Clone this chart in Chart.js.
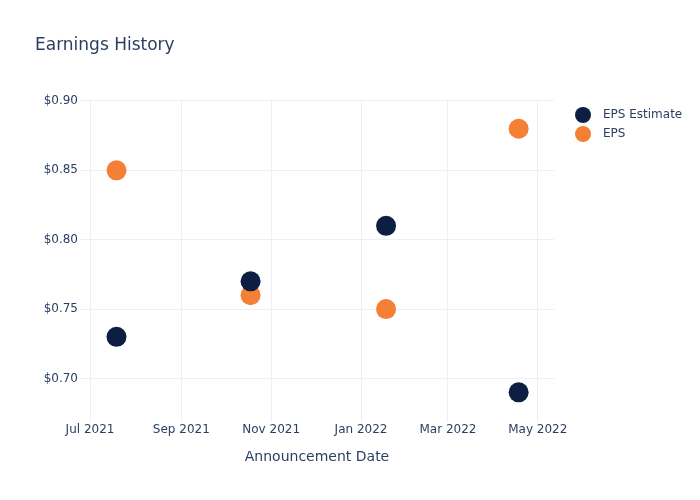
<!DOCTYPE html>
<html>
<head>
<meta charset="utf-8">
<script src="https://cdn.jsdelivr.net/npm/chart.js@4"></script>
<style>
  html, body { margin: 0; padding: 0; background: #fff; }
  #wrap { width: 700px; height: 500px; }
</style>
</head>
<body>
<div id="wrap"><canvas id="earningsChart" width="700" height="500"></canvas></div>
<script>
// Data
const announceDates = ['2021-07-19', '2021-10-18', '2022-01-18', '2022-04-18'];
const epsEstimate = [0.73, 0.77, 0.81, 0.69];
const epsActual = [0.85, 0.76, 0.75, 0.88];

const xTickDates = ['2021-07-01', '2021-09-01', '2021-11-01', '2022-01-01', '2022-03-01', '2022-05-01'];
const yTickValues = [0.70, 0.75, 0.80, 0.85, 0.90];
const xRange = ['2021-06-24T05:00', '2022-05-12T00:00'];
const yRange = [0.6686, 0.9004];

const monthNames = ['Jan', 'Feb', 'Mar', 'Apr', 'May', 'Jun', 'Jul', 'Aug', 'Sep', 'Oct', 'Nov', 'Dec'];
const textColor = '#2a3f5f';
const gridColor = '#ebf0f8';
const fontFamily = '"DejaVu Sans", Verdana, sans-serif';

const toMs = s => Date.parse(s + (s.length === 10 ? 'T00:00:00Z' : ':00Z'));

const toPoints = vals => vals.map((v, i) => ({ x: toMs(announceDates[i]), y: v }));

// simple plotly-like legend on the right
const sideLegend = {
  id: 'sideLegend',
  afterDraw(chart) {
    const ctx = chart.ctx;
    ctx.save();
    ctx.font = '12px ' + fontFamily;
    ctx.textBaseline = 'middle';
    chart.data.datasets.forEach((ds, i) => {
      const y = 115 + i * 19;
      ctx.beginPath();
      ctx.arc(583, y, 8, 0, Math.PI * 2);
      ctx.fillStyle = ds.backgroundColor;
      ctx.fill();
      ctx.fillStyle = textColor;
      ctx.fillText(ds.label, 603, y);
    });
    ctx.restore();
  }
};

const ctx = document.getElementById('earningsChart').getContext('2d');
new Chart(ctx, {
  type: 'scatter',
  data: {
    datasets: [
      {
        label: 'EPS Estimate',
        data: toPoints(epsEstimate),
        backgroundColor: '#0c1f43',
        borderWidth: 0,
        pointRadius: 10,
        pointHoverRadius: 10
      },
      {
        label: 'EPS',
        data: toPoints(epsActual),
        backgroundColor: '#f47f35',
        borderWidth: 0,
        pointRadius: 10,
        pointHoverRadius: 10
      }
    ]
  },
  options: {
    responsive: false,
    animation: false,
    layout: { padding: { left: 35, right: 146, top: 0, bottom: 0 } },
    plugins: {
      legend: { display: false },
      tooltip: { enabled: false },
      title: {
        display: true,
        text: 'Earnings History',
        align: 'start',
        color: textColor,
        font: { family: fontFamily, size: 17, weight: 'normal' },
        padding: { top: 35, bottom: 45 }
      }
    },
    scales: {
      x: {
        type: 'linear',
        min: toMs(xRange[0]),
        max: toMs(xRange[1]),
        afterBuildTicks: scale => {
          scale.ticks = xTickDates.map(d => ({ value: toMs(d) }));
        },
        afterFit: scale => { scale.height = 78; },
        ticks: {
          color: textColor,
          font: { family: fontFamily, size: 12 },
          padding: 1,
          maxRotation: 0,
          autoSkip: false,
          callback: v => {
            const d = new Date(v);
            return monthNames[d.getUTCMonth()] + ' ' + d.getUTCFullYear();
          }
        },
        grid: { color: gridColor, drawTicks: false },
        border: { display: false },
        title: {
          display: true,
          text: 'Announcement Date',
          color: textColor,
          font: { family: fontFamily, size: 14 },
          padding: { top: 0, bottom: 34 }
        }
      },
      y: {
        min: yRange[0],
        max: yRange[1],
        afterBuildTicks: scale => {
          scale.ticks = yTickValues.map(v => ({ value: v }));
        },
        afterFit: scale => { scale.width = 45; },
        ticks: {
          color: textColor,
          font: { family: fontFamily, size: 12 },
          padding: 2,
          callback: v => '$' + Number(v).toFixed(2)
        },
        grid: { color: gridColor, drawTicks: false },
        border: { display: false }
      }
    }
  },
  plugins: [sideLegend]
});
</script>
</body>
</html>
